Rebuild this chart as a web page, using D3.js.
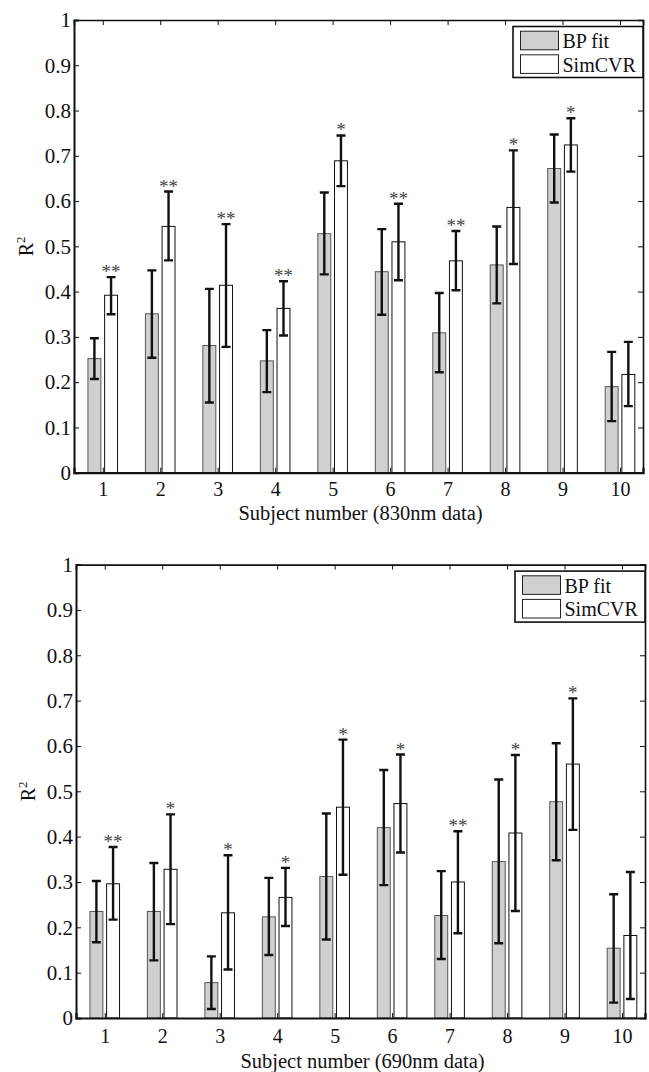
<!DOCTYPE html>
<html>
<head>
<meta charset="utf-8">
<script src="https://cdn.jsdelivr.net/npm/d3@7"></script>
<style>
  body { margin: 0; background: #fff; }
  svg { display: block; }
  text { font-family: "Liberation Serif", "Times New Roman", serif; fill: #111; }
</style>
</head>
<body>
<svg width="649" height="1072"></svg>
<script>
const svg = d3.select("svg");

// DATA
const subjects = [1, 2, 3, 4, 5, 6, 7, 8, 9, 10];
const seriesNames = ["BP fit", "SimCVR"];
const yTicks = [0, 0.1, 0.2, 0.3, 0.4, 0.5, 0.6, 0.7, 0.8, 0.9, 1];

// 830nm panel
const bp830 = [0.252, 0.351, 0.281, 0.247, 0.528, 0.444, 0.309, 0.459, 0.672, 0.190];
const bp830Lo = [0.207, 0.254, 0.155, 0.178, 0.438, 0.349, 0.222, 0.374, 0.597, 0.114];
const bp830Hi = [0.297, 0.447, 0.406, 0.315, 0.619, 0.538, 0.397, 0.544, 0.747, 0.267];
const sim830 = [0.392, 0.544, 0.414, 0.363, 0.689, 0.510, 0.468, 0.586, 0.724, 0.217];
const sim830Lo = [0.350, 0.469, 0.278, 0.303, 0.633, 0.425, 0.403, 0.461, 0.665, 0.147];
const sim830Hi = [0.432, 0.621, 0.549, 0.423, 0.745, 0.594, 0.534, 0.712, 0.783, 0.289];
const stars830 = ["**", "**", "**", "**", "*", "**", "**", "*", "*", ""];

// 690nm panel
const bp690 = [0.235, 0.235, 0.078, 0.223, 0.312, 0.420, 0.226, 0.345, 0.477, 0.154];
const bp690Lo = [0.167, 0.127, 0.020, 0.139, 0.173, 0.293, 0.130, 0.165, 0.348, 0.034];
const bp690Hi = [0.302, 0.342, 0.136, 0.309, 0.451, 0.547, 0.324, 0.526, 0.606, 0.273];
const sim690 = [0.296, 0.328, 0.232, 0.266, 0.465, 0.473, 0.300, 0.408, 0.560, 0.182];
const sim690Lo = [0.217, 0.207, 0.107, 0.203, 0.316, 0.365, 0.187, 0.236, 0.415, 0.042];
const sim690Hi = [0.377, 0.449, 0.359, 0.331, 0.614, 0.581, 0.412, 0.580, 0.705, 0.322];
const stars690 = ["**", "*", "*", "*", "*", "*", "**", "*", "*", ""];

// layout of the two panels
const panels = [
  { left: 74, right: 643, top: 20, bottom: 472.7, tickPad: 9, labelY: 47.5,
    xlabel: "Subject number (830nm data)",
    series: [
      { val: bp830, lo: bp830Lo, hi: bp830Hi },
      { val: sim830, lo: sim830Lo, hi: sim830Hi }
    ], stars: stars830 },
  { left: 76, right: 645, top: 564.6, bottom: 1018, tickPad: 11, labelY: 50,
    xlabel: "Subject number (690nm data)",
    series: [
      { val: bp690, lo: bp690Lo, hi: bp690Hi },
      { val: sim690, lo: sim690Lo, hi: sim690Hi }
    ], stars: stars690 }
];

const fills = ["#d0d0d0", "#ffffff"];
const strokes = ["#555", "#111"];
const offsets = [-0.145, 0.145];
const barW = 0.225;
const capW = 4.5;
const fmt = d => String(+d.toFixed(1));

function drawPanel(p) {
  const w = p.right - p.left, h = p.bottom - p.top;
  const g = svg.append("g").attr("transform", `translate(${p.left},${p.top})`);

  const x = d3.scaleLinear().domain([0.5, 10.4]).range([0, w]);
  const y = d3.scaleLinear().domain([0, 1]).range([h, 0]);
  const bw = x(barW) - x(0);

  // bars
  p.series.forEach((s, si) => {
    g.append("g").selectAll("rect").data(subjects).join("rect")
      .attr("x", d => x(d + offsets[si]) - bw / 2)
      .attr("y", (d, i) => y(s.val[i]))
      .attr("width", bw)
      .attr("height", (d, i) => y(0) - y(s.val[i]))
      .attr("fill", fills[si])
      .attr("stroke", strokes[si])
      .attr("stroke-width", 1);
  });

  // error bars
  p.series.forEach((s, si) => {
    const eg = g.append("g").attr("stroke", "#111").attr("stroke-width", 2.4).attr("fill", "none");
    subjects.forEach((d, i) => {
      const cx = x(d + offsets[si]);
      eg.append("path")
        .attr("d", `M${cx},${y(s.lo[i])}V${y(s.hi[i])}` +
          `M${cx - capW},${y(s.hi[i])}H${cx + capW}` +
          `M${cx - capW},${y(s.lo[i])}H${cx + capW}`);
    });
  });

  // significance stars
  g.append("g").selectAll("text").data(subjects).join("text")
    .attr("x", d => x(d + offsets[1]))
    .attr("y", (d, i) => y(p.series[1].hi[i]) + 1)
    .attr("text-anchor", "middle")
    .attr("font-size", 19)
    .style("fill", "#444")
    .text((d, i) => p.stars[i]);

  // axes (ticks inward, box on)
  const yL = g.append("g").call(d3.axisLeft(y).tickValues(yTicks).tickFormat(fmt).tickSize(-5).tickPadding(3));
  const yR = g.append("g").attr("transform", `translate(${w},0)`)
    .call(d3.axisRight(y).tickValues(yTicks).tickFormat("").tickSize(-5));
  const xB = g.append("g").attr("transform", `translate(0,${h})`)
    .call(d3.axisBottom(x).tickValues(subjects).tickFormat(d3.format("d")).tickSize(-5).tickPadding(p.tickPad));
  const xT = g.append("g")
    .call(d3.axisTop(x).tickValues(subjects).tickFormat("").tickSize(-5));

  [yL, yR, xB, xT].forEach(a => {
    a.select(".domain").attr("stroke", "#111").attr("stroke-width", 1.6);
    a.selectAll(".tick line").attr("stroke", "#111").attr("stroke-width", 1);
    a.selectAll(".tick text").attr("font-size", 21).attr("fill", "#111");
  });
  xB.selectAll(".tick text").attr("font-size", 20);
  xB.select(".domain").attr("stroke-width", 2.2);
  yL.select(".domain").attr("stroke-width", 2);

  // axis labels
  g.append("text")
    .attr("x", w / 2 + 2)
    .attr("y", h + p.labelY)
    .attr("text-anchor", "middle")
    .attr("font-size", 20.5)
    .text(p.xlabel);

  const yl = g.append("text")
    .attr("transform", `translate(${-41},${h / 2}) rotate(-90)`)
    .attr("text-anchor", "middle")
    .attr("font-size", 20);
  yl.append("tspan").text("R");
  yl.append("tspan").attr("font-size", 13).attr("dy", -8).text("2");

  // legend
  const lw = 130, lh = 51;
  const lg = g.append("g").attr("transform", `translate(${w - lw},6.5)`);
  lg.append("rect").attr("width", lw).attr("height", lh)
    .attr("fill", "#fff").attr("stroke", "#111").attr("stroke-width", 1.6);
  seriesNames.forEach((name, i) => {
    lg.append("rect")
      .attr("x", 7.5).attr("y", 4.7 + i * 23.6)
      .attr("width", 38).attr("height", 18.6)
      .attr("fill", fills[i]).attr("stroke", "#222").attr("stroke-width", 1);
    lg.append("text")
      .attr("x", 49.5).attr("y", 21.5 + i * 23.6)
      .attr("font-size", 20)
      .text(name);
  });
}

panels.forEach(drawPanel);
</script>
</body>
</html>
